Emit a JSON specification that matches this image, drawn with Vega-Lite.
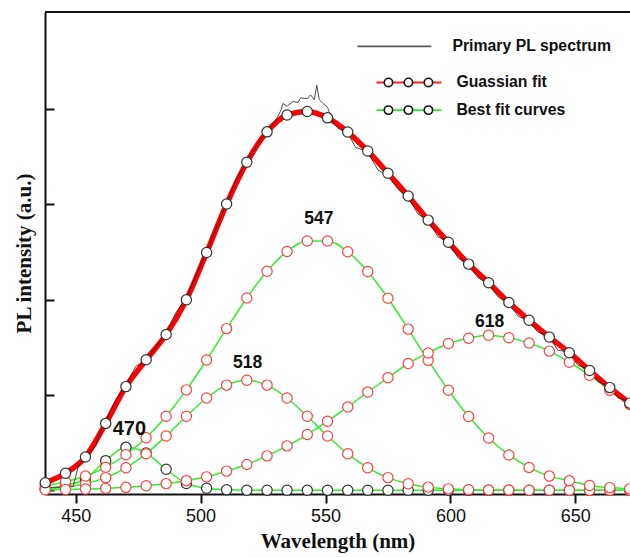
{
  "$schema": "https://vega.github.io/schema/vega-lite/v6.json",
  "autosize": "none",
  "width": 585,
  "height": 482,
  "padding": {"left": 45, "top": 12, "right": 0, "bottom": 63},
  "background": "white",
  "config": {"view": {"stroke": null}},
  "datasets": {
    "comps": [
      {"c":"470","x":437.8,"v":0.01},{"c":"470","x":445.9,"v":0.05},{"c":"470","x":453.9,"v":0.12},{"c":"470","x":462.0,"v":0.31},{"c":"470","x":470.1,"v":0.45},{"c":"470","x":478.2,"v":0.39},{"c":"470","x":486.2,"v":0.22},{"c":"470","x":494.3,"v":0.07},{"c":"470","x":502.4,"v":0.02},{"c":"470","x":510.4,"v":0.005},{"c":"470","x":518.5,"v":0},{"c":"470","x":526.6,"v":0},{"c":"470","x":534.6,"v":0},{"c":"470","x":542.7,"v":0},{"c":"470","x":550.8,"v":0},{"c":"470","x":558.9,"v":0},{"c":"470","x":566.9,"v":0},{"c":"470","x":575.0,"v":0},{"c":"470","x":583.1,"v":0},{"c":"470","x":591.1,"v":0},{"c":"470","x":599.2,"v":0},{"c":"470","x":607.3,"v":0},{"c":"470","x":615.3,"v":0},{"c":"470","x":623.4,"v":0},{"c":"470","x":631.5,"v":0},{"c":"470","x":639.6,"v":0},{"c":"470","x":647.6,"v":0},{"c":"470","x":655.7,"v":0},{"c":"470","x":663.8,"v":0},{"c":"470","x":671.8,"v":0},
      {"c":"518","x":437.8,"v":0.014},{"c":"518","x":445.9,"v":0.032},{"c":"518","x":453.9,"v":0.068},{"c":"518","x":462.0,"v":0.132},{"c":"518","x":470.1,"v":0.235},{"c":"518","x":478.2,"v":0.383},{"c":"518","x":486.2,"v":0.569},{"c":"518","x":494.3,"v":0.776},{"c":"518","x":502.4,"v":0.968},{"c":"518","x":510.4,"v":1.103},{"c":"518","x":518.5,"v":1.154},{"c":"518","x":526.6,"v":1.103},{"c":"518","x":534.6,"v":0.968},{"c":"518","x":542.7,"v":0.776},{"c":"518","x":550.8,"v":0.569},{"c":"518","x":558.9,"v":0.383},{"c":"518","x":566.9,"v":0.235},{"c":"518","x":575.0,"v":0.132},{"c":"518","x":583.1,"v":0.068},{"c":"518","x":591.1,"v":0.032},{"c":"518","x":599.2,"v":0.014},{"c":"518","x":607.3,"v":0.005},{"c":"518","x":615.3,"v":0.002},{"c":"518","x":623.4,"v":0.001},{"c":"518","x":631.5,"v":0},{"c":"518","x":639.6,"v":0},{"c":"518","x":647.6,"v":0},{"c":"518","x":655.7,"v":0},{"c":"518","x":663.8,"v":0},{"c":"518","x":671.8,"v":0},
      {"c":"547","x":437.8,"v":0.05},{"c":"547","x":445.9,"v":0.089},{"c":"547","x":453.9,"v":0.149},{"c":"547","x":462.0,"v":0.24},{"c":"547","x":470.1,"v":0.372},{"c":"547","x":478.2,"v":0.55},{"c":"547","x":486.2,"v":0.776},{"c":"547","x":494.3,"v":1.053},{"c":"547","x":502.4,"v":1.367},{"c":"547","x":510.4,"v":1.696},{"c":"547","x":518.5,"v":2.018},{"c":"547","x":526.6,"v":2.299},{"c":"547","x":534.6,"v":2.505},{"c":"547","x":542.7,"v":2.616},{"c":"547","x":550.8,"v":2.616},{"c":"547","x":558.9,"v":2.503},{"c":"547","x":566.9,"v":2.296},{"c":"547","x":575.0,"v":2.015},{"c":"547","x":583.1,"v":1.691},{"c":"547","x":591.1,"v":1.363},{"c":"547","x":599.2,"v":1.049},{"c":"547","x":607.3,"v":0.773},{"c":"547","x":615.3,"v":0.548},{"c":"547","x":623.4,"v":0.37},{"c":"547","x":631.5,"v":0.239},{"c":"547","x":639.6,"v":0.148},{"c":"547","x":647.6,"v":0.1},{"c":"547","x":655.7,"v":0.05},{"c":"547","x":663.8,"v":0.027},{"c":"547","x":671.8,"v":0.014},
      {"c":"618","x":437.8,"v":0.004},{"c":"618","x":445.9,"v":0.007},{"c":"618","x":453.9,"v":0.012},{"c":"618","x":462.0,"v":0.019},{"c":"618","x":470.1,"v":0.03},{"c":"618","x":478.2,"v":0.046},{"c":"618","x":486.2,"v":0.069},{"c":"618","x":494.3,"v":0.1},{"c":"618","x":502.4,"v":0.14},{"c":"618","x":510.4,"v":0.2},{"c":"618","x":518.5,"v":0.27},{"c":"618","x":526.6,"v":0.36},{"c":"618","x":534.6,"v":0.465},{"c":"618","x":542.7,"v":0.584},{"c":"618","x":550.8,"v":0.724},{"c":"618","x":558.9,"v":0.874},{"c":"618","x":566.9,"v":1.03},{"c":"618","x":575.0,"v":1.18},{"c":"618","x":583.1,"v":1.33},{"c":"618","x":591.1,"v":1.44},{"c":"618","x":599.2,"v":1.54},{"c":"618","x":607.3,"v":1.595},{"c":"618","x":615.3,"v":1.627},{"c":"618","x":623.4,"v":1.6},{"c":"618","x":631.5,"v":1.545},{"c":"618","x":639.6,"v":1.46},{"c":"618","x":647.6,"v":1.343},{"c":"618","x":655.7,"v":1.207},{"c":"618","x":663.8,"v":1.05},{"c":"618","x":671.8,"v":0.9}
    ],
    "total": [
      {"x":437.8,"v":0.078},{"x":445.9,"v":0.178},{"x":453.9,"v":0.349},{"x":462.0,"v":0.701},{"x":470.1,"v":1.087},{"x":478.2,"v":1.369},{"x":486.2,"v":1.634},{"x":494.3,"v":1.999},{"x":502.4,"v":2.495},{"x":510.4,"v":3.004},{"x":518.5,"v":3.442},{"x":526.6,"v":3.762},{"x":534.6,"v":3.938},{"x":542.7,"v":3.976},{"x":550.8,"v":3.909},{"x":558.9,"v":3.76},{"x":566.9,"v":3.561},{"x":575.0,"v":3.327},{"x":583.1,"v":3.089},{"x":591.1,"v":2.835},{"x":599.2,"v":2.603},{"x":607.3,"v":2.373},{"x":615.3,"v":2.177},{"x":623.4,"v":1.97},{"x":631.5,"v":1.784},{"x":639.6,"v":1.608},{"x":647.6,"v":1.443},{"x":655.7,"v":1.257},{"x":663.8,"v":1.077},{"x":671.8,"v":0.914}
    ],
    "spec": [
      {"x":437.8,"v":0.03},{"x":442,"v":0.03},{"x":446,"v":0.03},{"x":449,"v":0.04},{"x":451,"v":0.25},{"x":453.9,"v":0.36},{"x":458,"v":0.46},{"x":460,"v":0.62},{"x":462.0,"v":0.72},{"x":466,"v":0.95},{"x":470.1,"v":1.1},{"x":474,"v":1.3},{"x":478.2,"v":1.36},{"x":482,"v":1.5},{"x":486.2,"v":1.64},{"x":490,"v":1.86},{"x":494.3,"v":2.01},{"x":498,"v":2.25},{"x":502.4,"v":2.5},{"x":506,"v":2.74},{"x":510.4,"v":3.01},{"x":514,"v":3.25},{"x":518.5,"v":3.45},{"x":522,"v":3.6},{"x":526.6,"v":3.77},{"x":530,"v":3.88},{"x":532,"v":3.98},{"x":533,"v":4.06},{"x":534.6,"v":4.03},{"x":537,"v":4.08},{"x":539,"v":4.07},{"x":540,"v":4.12},{"x":542.7,"v":4.11},{"x":544,"v":4.15},{"x":545.5,"v":4.1},{"x":546.5,"v":4.25},{"x":547.5,"v":4.1},{"x":549,"v":4.06},{"x":550.8,"v":4.02},{"x":553,"v":3.86},{"x":555,"v":3.8},{"x":558.9,"v":3.75},{"x":562,"v":3.6},{"x":566.9,"v":3.55},{"x":571,"v":3.36},{"x":575.0,"v":3.3},{"x":579,"v":3.16},{"x":583.1,"v":3.07},{"x":587,"v":2.9},{"x":591.1,"v":2.83},{"x":595,"v":2.66},{"x":599.2,"v":2.61},{"x":603,"v":2.44},{"x":607.3,"v":2.37},{"x":611,"v":2.23},{"x":615.3,"v":2.17},{"x":619,"v":2.03},{"x":623.4,"v":1.96},{"x":627,"v":1.83},{"x":631.5,"v":1.77},{"x":635,"v":1.66},{"x":639.6,"v":1.61},{"x":643,"v":1.47},{"x":647.6,"v":1.45},{"x":651,"v":1.31},{"x":655.7,"v":1.27},{"x":659,"v":1.14},{"x":663.8,"v":1.09},{"x":667,"v":0.97},{"x":671.8,"v":0.93}
    ],
    "legLines": [
      {"r":"spec","x":562.8,"v":4.66},{"r":"spec","x":592.4,"v":4.66},
      {"r":"gauss","x":570.4,"v":4.28},{"r":"gauss","x":596.4,"v":4.28},
      {"r":"best","x":570.4,"v":3.99},{"r":"best","x":596.4,"v":3.99}
    ],
    "legO": [
      {"x":575.2,"v":4.28},{"x":583.2,"v":4.28},{"x":591.2,"v":4.28},
      {"x":575.2,"v":3.99},{"x":583.2,"v":3.99},{"x":591.2,"v":3.99}
    ],
    "legText": [
      {"t":"Primary PL spectrum","x":600.8,"v":4.66},
      {"t":"Guassian fit","x":602.4,"v":4.28},
      {"t":"Best fit curves","x":602.4,"v":3.99}
    ],
    "peaks": [
      {"t":"470","x":471.5,"v":0.647,"big":true},
      {"t":"518","x":518.8,"v":1.33,"big":false},
      {"t":"547","x":547.3,"v":2.85,"big":false},
      {"t":"618","x":615.7,"v":1.766,"big":false}
    ]
  },
  "layer": [
    {
      "data": {"name": "comps"},
      "mark": {"type": "line", "interpolate": "monotone", "color": "#2ef02e", "strokeWidth": 1.5},
      "encoding": {
        "x": {"field": "x", "type": "quantitative",
          "scale": {"domain": [437.7, 671.9], "nice": false, "zero": false},
          "axis": {"values": [450, 500, 550, 600, 650], "grid": false, "tickSize": 9, "tickWidth": 2, "tickColor": "#111",
            "domainColor": "#111", "domainWidth": 2, "labelFont": "Liberation Sans", "labelFontSize": 18, "labelColor": "#111",
            "labelPadding": 4, "titleFont": "Liberation Serif", "titleFontSize": 21, "titleFontWeight": "bold", "titleColor": "#111", "titlePadding": 5},
          "title": "Wavelength (nm)"},
        "y": {"field": "v", "type": "quantitative",
          "scale": {"domain": [-0.04, 5.02], "nice": false, "zero": false},
          "axis": {"values": [0, 1, 2, 3, 4], "labels": false, "grid": false, "tickSize": -9, "tickWidth": 2, "tickColor": "#111",
            "domainColor": "#111", "domainWidth": 2, "titleFont": "Liberation Serif", "titleFontSize": 21, "titleFontWeight": "bold", "titleColor": "#111", "titlePadding": 10},
          "title": "PL intensity (a.u.)"},
        "detail": {"field": "c"}
      }
    },
    {
      "data": {"name": "total"},
      "mark": {"type": "line", "interpolate": "monotone", "color": "#ff0000", "strokeWidth": 5.5},
      "encoding": {"x": {"field": "x", "type": "quantitative"}, "y": {"field": "v", "type": "quantitative"}}
    },
    {
      "data": {"name": "spec"},
      "mark": {"type": "line", "color": "#222", "strokeWidth": 0.8},
      "encoding": {"x": {"field": "x", "type": "quantitative"}, "y": {"field": "v", "type": "quantitative"}}
    },
    {
      "data": {"name": "comps"},
      "transform": [{"filter": "datum.c == '470'"}],
      "mark": {"type": "point", "shape": "circle", "size": 105, "fill": "white", "fillOpacity": 1, "stroke": "#333", "strokeWidth": 1.2, "opacity": 1},
      "encoding": {"x": {"field": "x", "type": "quantitative"}, "y": {"field": "v", "type": "quantitative"}}
    },
    {
      "data": {"name": "comps"},
      "transform": [{"filter": "datum.c != '470'"}],
      "mark": {"type": "point", "shape": "circle", "size": 105, "fill": "white", "fillOpacity": 1, "stroke": "#ff4040", "strokeWidth": 1.2, "opacity": 1},
      "encoding": {"x": {"field": "x", "type": "quantitative"}, "y": {"field": "v", "type": "quantitative"}}
    },
    {
      "data": {"name": "total"},
      "mark": {"type": "point", "shape": "circle", "size": 105, "fill": "white", "fillOpacity": 1, "stroke": "#333", "strokeWidth": 1.2, "opacity": 1},
      "encoding": {"x": {"field": "x", "type": "quantitative"}, "y": {"field": "v", "type": "quantitative"}}
    },
    {
      "data": {"name": "legLines"},
      "mark": {"type": "line", "strokeWidth": 1.8},
      "encoding": {
        "x": {"field": "x", "type": "quantitative"}, "y": {"field": "v", "type": "quantitative"},
        "color": {"field": "r", "type": "nominal", "scale": {"domain": ["spec", "gauss", "best"], "range": ["#555", "#ff2020", "#22ee22"]}, "legend": null}
      }
    },
    {
      "data": {"name": "legO"},
      "mark": {"type": "point", "shape": "circle", "size": 70, "fill": "white", "fillOpacity": 1, "stroke": "#111", "strokeWidth": 1.6, "opacity": 1},
      "encoding": {"x": {"field": "x", "type": "quantitative"}, "y": {"field": "v", "type": "quantitative"}}
    },
    {
      "data": {"name": "legText"},
      "mark": {"type": "text", "align": "left", "baseline": "middle", "font": "Liberation Sans", "fontSize": 15.8, "fontWeight": "bold", "color": "#111"},
      "encoding": {"x": {"field": "x", "type": "quantitative"}, "y": {"field": "v", "type": "quantitative"}, "text": {"field": "t"}}
    },
    {
      "data": {"name": "peaks"},
      "transform": [{"filter": "datum.big"}],
      "mark": {"type": "text", "align": "center", "baseline": "middle", "font": "Liberation Sans", "fontSize": 20, "fontWeight": "bold", "color": "#111"},
      "encoding": {"x": {"field": "x", "type": "quantitative"}, "y": {"field": "v", "type": "quantitative"}, "text": {"field": "t"}}
    },
    {
      "data": {"name": "peaks"},
      "transform": [{"filter": "!datum.big"}],
      "mark": {"type": "text", "align": "center", "baseline": "middle", "font": "Liberation Sans", "fontSize": 17.5, "fontWeight": "bold", "color": "#111"},
      "encoding": {"x": {"field": "x", "type": "quantitative"}, "y": {"field": "v", "type": "quantitative"}, "text": {"field": "t"}}
    },
    {
      "data": {"values": [{}]},
      "mark": {"type": "rule", "color": "#111", "strokeWidth": 2},
      "encoding": {"y": {"datum": 5.02}}
    }
  ]
}
